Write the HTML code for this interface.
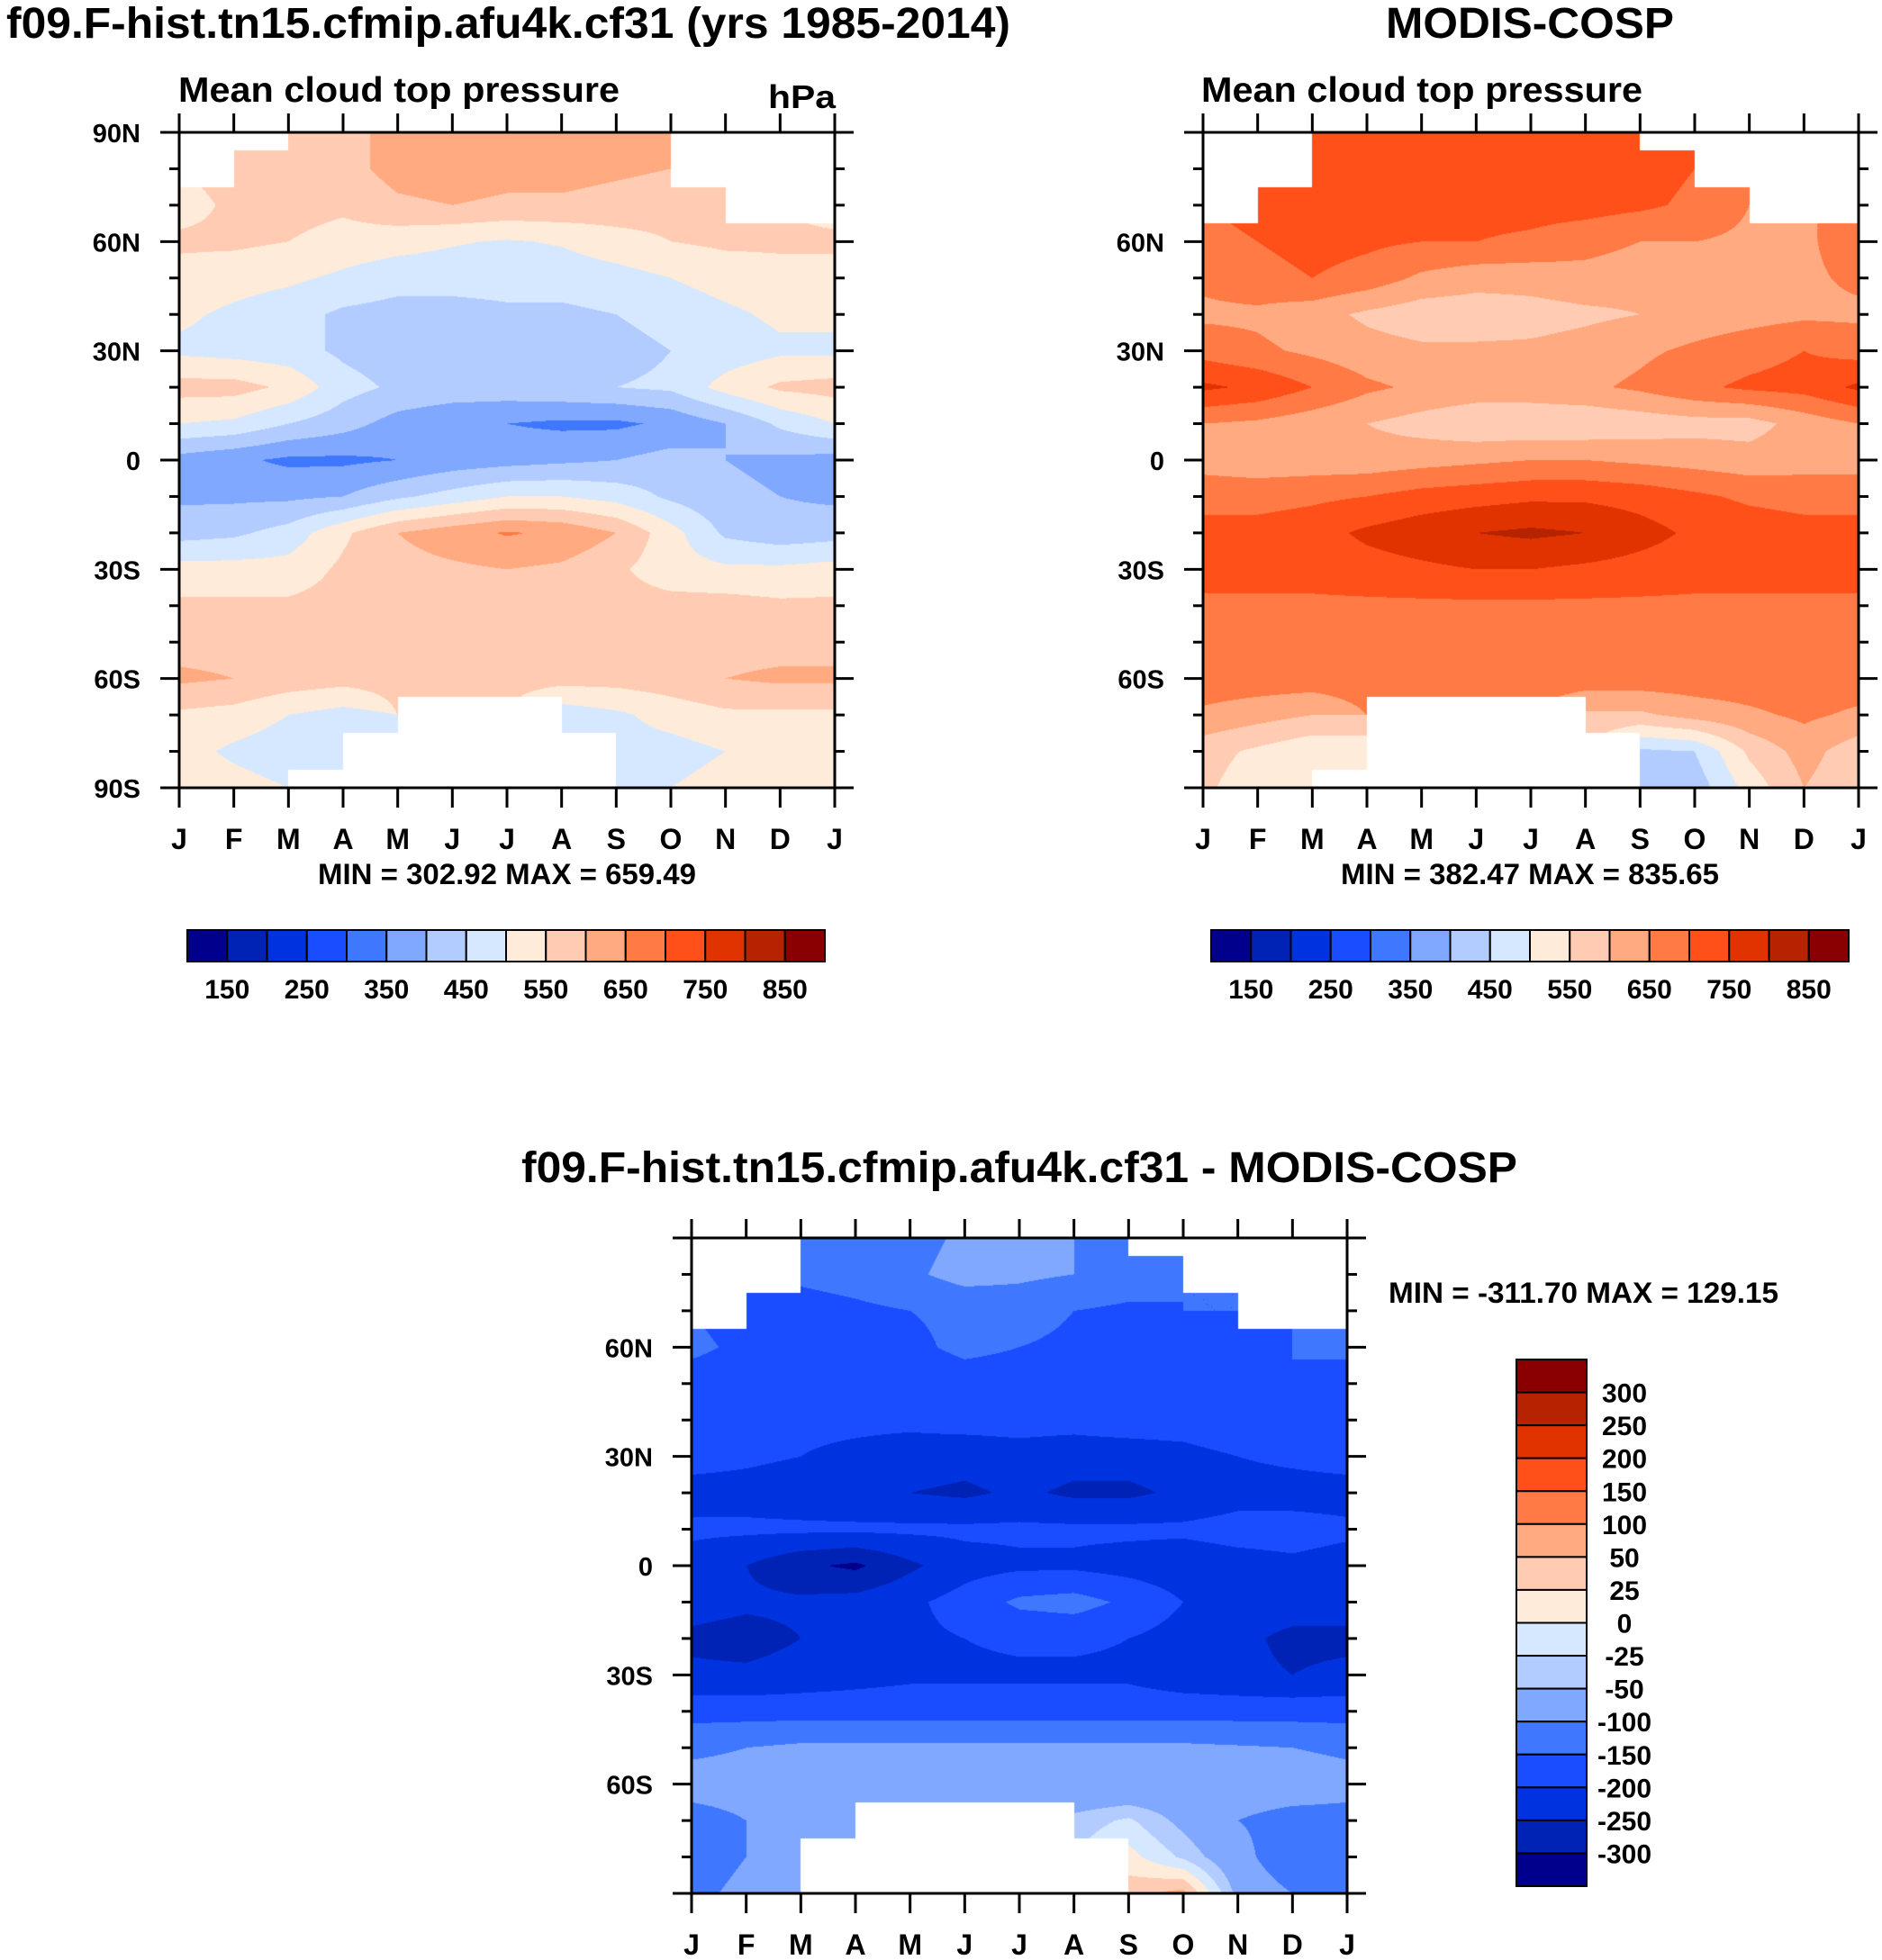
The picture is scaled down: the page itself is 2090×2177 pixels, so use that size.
<!DOCTYPE html>
<html>
<head>
<meta charset="utf-8">
<style>
html,body{margin:0;padding:0;background:#fff;}
#root{position:relative;width:2090px;height:2177px;overflow:hidden;background:#fff;}
canvas{position:absolute;}
svg{position:absolute;left:0;top:0;}
text{font-family:"Liberation Sans",Arial,sans-serif;font-weight:bold;fill:#000;}
</style>
</head>
<body>
<div id="root">
<canvas id="c1" width="728" height="728" style="left:199px;top:147px"></canvas>
<canvas id="c2" width="728" height="728" style="left:1336px;top:147px"></canvas>
<canvas id="c3" width="728" height="728" style="left:768px;top:1375px"></canvas>
<svg id="ov" width="2090" height="2177">
  <text x="7" y="42" font-size="48" textLength="1115" lengthAdjust="spacingAndGlyphs">f09.F-hist.tn15.cfmip.afu4k.cf31 (yrs 1985-2014)</text>
  <text x="198" y="113" font-size="39" textLength="490" lengthAdjust="spacingAndGlyphs">Mean cloud top pressure</text>
  <text x="853" y="120" font-size="36" textLength="75" lengthAdjust="spacingAndGlyphs">hPa</text>
  <text x="1539" y="42" font-size="48" textLength="320" lengthAdjust="spacingAndGlyphs">MODIS-COSP</text>
  <text x="1334" y="113" font-size="39" textLength="490" lengthAdjust="spacingAndGlyphs">Mean cloud top pressure</text>
  <text x="579" y="1313" font-size="48" textLength="1106" lengthAdjust="spacingAndGlyphs">f09.F-hist.tn15.cfmip.afu4k.cf31 - MODIS-COSP</text>
  <text x="563" y="982" font-size="32" text-anchor="middle" textLength="420" lengthAdjust="spacingAndGlyphs">MIN = 302.92 MAX = 659.49</text>
  <text x="1699" y="982" font-size="32" text-anchor="middle" textLength="420" lengthAdjust="spacingAndGlyphs">MIN = 382.47 MAX = 835.65</text>
  <text x="1542" y="1447" font-size="32" textLength="433" lengthAdjust="spacingAndGlyphs">MIN = -311.70 MAX = 129.15</text>
</svg>
</div>
<script>
const months = ['J','F','M','A','M','J','J','A','S','O','N','D','J'];
const lats = [90,80,70,60,50,40,30,20,10,0,-10,-20,-30,-40,-50,-60,-70,-80,-90];
const ctpLevels = [150,200,250,300,350,400,450,500,550,600,650,700,750,800,850];
const diffLevels = [-300,-250,-200,-150,-100,-50,-25,0,25,50,100,150,200,250,300];
const ctpTickLabels = ['150','250','350','450','550','650','750','850'];
const diffTickLabels = ['300','250','200','150','100','50','25','0','-25','-50','-100','-150','-200','-250','-300'];
const palette = ['#00008c','#0022b5','#0033e0','#1a4dff','#4077ff','#80a8ff','#b3ccff','#d5e8ff','#ffebd9','#ffccb3','#ffaa80','#ff7a45','#ff501a','#e03300','#b52300','#8a0000'];
const n = null;
const modelCTP = [
 [n,n,570,580,620,620,620,620,610,n,n,n],
 [n,570,575,580,620,630,620,620,610,n,n,n],
 [530,560,570,560,590,600,590,590,580,570,n,n],
 [560,560,550,530,520,505,495,505,530,550,560,560],
 [530,520,510,490,470,470,470,470,480,500,520,530],
 [510,490,470,440,430,430,440,440,450,470,490,510],
 [490,480,470,440,420,410,410,420,430,450,470,490],
 [570,570,540,470,440,430,430,440,450,460,520,560],
 [500,490,450,420,380,360,350,340,340,360,400,460],
 [380,360,340,340,350,370,380,390,400,420,400,390],
 [390,390,390,400,440,470,500,500,480,440,410,400],
 [430,440,470,540,600,630,655,640,600,520,440,420],
 [520,520,520,560,580,590,600,590,560,520,510,510],
 [560,560,560,570,570,570,570,570,570,570,570,560],
 [580,580,580,580,570,570,570,570,570,570,580,580],
 [610,600,580,570,570,570,570,570,570,580,600,610],
 [540,530,500,480,n,n,n,470,490,520,540,540],
 [520,490,470,n,n,n,n,n,480,480,500,510],
 [540,520,n,n,n,n,n,n,500,500,520,530]
];
const modisCTP = [
 [n,n,730,730,730,730,730,730,n,n,n,n],
 [n,n,720,730,730,730,730,730,720,n,n,n],
 [n,720,710,700,710,720,720,720,710,690,n,n],
 [680,700,720,710,700,700,690,670,650,650,640,640],
 [660,680,700,680,640,620,620,630,620,630,640,640],
 [640,640,620,590,570,570,580,590,600,620,630,640],
 [680,660,640,620,610,610,610,620,640,660,680,700],
 [760,740,700,660,640,630,630,640,660,690,710,720],
 [650,640,620,600,580,560,560,560,570,580,580,620],
 [630,620,620,620,630,640,650,650,640,630,620,630],
 [680,680,690,700,720,730,740,740,730,710,690,680],
 [720,720,730,760,780,800,810,800,770,740,730,720],
 [720,720,720,730,740,750,750,740,730,720,720,720],
 [690,690,690,690,690,690,690,690,690,690,690,690],
 [690,690,690,690,690,690,690,690,690,690,690,690],
 [680,680,680,680,680,680,680,680,680,680,680,680],
 [640,620,600,n,n,n,n,590,590,620,640,660],
 [570,540,510,n,n,n,n,n,440,450,560,620],
 [560,520,n,n,n,n,n,n,420,420,520,600]
];
const diffCTP = [
 [n,n,-130,-140,-120,-90,-80,-100,n,n,n,n],
 [n,n,-140,-130,-110,-80,-90,-100,-120,n,n,n],
 [n,-170,-170,-160,-150,-140,-130,-150,-160,-150,n,n],
 [-140,-160,-180,-170,-160,-140,-150,-160,-170,-170,-160,-150],
 [-170,-180,-190,-190,-180,-170,-170,-180,-170,-160,-150,-150],
 [-180,-180,-190,-190,-190,-180,-180,-180,-170,-170,-150,-160],
 [-180,-190,-200,-210,-220,-230,-220,-230,-230,-220,-200,-190],
 [-220,-220,-230,-240,-250,-260,-240,-260,-260,-240,-220,-220],
 [-190,-190,-190,-190,-190,-190,-190,-190,-190,-190,-180,-180],
 [-220,-250,-290,-310,-260,-220,-210,-210,-220,-230,-220,-210],
 [-230,-240,-240,-230,-210,-180,-140,-130,-160,-200,-230,-230],
 [-260,-270,-250,-230,-210,-200,-190,-190,-200,-220,-240,-260],
 [-240,-240,-230,-220,-210,-210,-210,-210,-210,-230,-240,-250],
 [-170,-170,-170,-170,-170,-170,-170,-170,-170,-170,-170,-170],
 [-110,-100,-90,-90,-90,-90,-90,-90,-90,-90,-95,-100],
 [-80,-80,-90,-90,-90,-90,-90,-90,-90,-80,-70,-70],
 [-120,-100,-60,n,n,n,n,-40,-20,-60,-100,-120],
 [-140,-100,n,n,n,n,n,n,10,-30,-80,-140],
 [-120,-80,n,n,n,n,n,n,40,60,-60,-100]
];

const W = 728;
const panels = [
 {id:'c1', name:'model', x0:199, y0:147, data:modelCTP, levels:ctpLevels, allLat:true},
 {id:'c2', name:'modis', x0:1336, y0:147, data:modisCTP, levels:ctpLevels, allLat:false},
 {id:'c3', name:'difference', x0:768, y0:1375, data:diffCTP, levels:diffLevels, allLat:false}
];
function xScale(p, m){ return p.x0 + m*W/12; }
function yScale(p, lat){ return p.y0 + (90-lat)*W/180; }
function node(p, j, i){ return p.data[j][i % 12]; }
function levelColor(levels, v){ let k=0; while(k<levels.length && v>=levels[k]) k++; return palette[k]; }
function hexRGB(h){ return [parseInt(h.substr(1,2),16),parseInt(h.substr(3,2),16),parseInt(h.substr(5,2),16)]; }

panels.forEach(p=>{
  const cv = document.getElementById(p.id);
  const ctx = cv.getContext('2d');
  const img = ctx.createImageData(W, W);
  const nLat = lats.length - 1;
  for(let py=0; py<W; py++){
    const fy = (py+0.5)/W*nLat;
    const j0 = Math.min(Math.floor(fy), nLat-1), ty = fy - j0;
    const jr = Math.round(fy);
    for(let px=0; px<W; px++){
      const fx = (px+0.5)/W*12;
      const i0 = Math.min(Math.floor(fx), 11), tx = fx - i0;
      let rgb = [255,255,255];
      if(node(p, jr, i0) !== null){
        const pts = [[j0,i0,(1-tx)*(1-ty)],[j0,i0+1,tx*(1-ty)],[j0+1,i0,(1-tx)*ty],[j0+1,i0+1,tx*ty]];
        let s=0, w=0;
        pts.forEach(q=>{ const v=node(p,q[0],q[1]); if(v!==null){ s+=v*q[2]; w+=q[2]; } });
        if(w>0) rgb = hexRGB(levelColor(p.levels, s/w));
      }
      const o = (py*W+px)*4;
      img.data[o]=rgb[0]; img.data[o+1]=rgb[1]; img.data[o+2]=rgb[2]; img.data[o+3]=255;
    }
  }
  ctx.putImageData(img,0,0);
});

const svg = document.getElementById('ov');
const NS = 'http://www.w3.org/2000/svg';
function mk(tag, attrs){ const e=document.createElementNS(NS,tag); for(const k in attrs) e.setAttribute(k, attrs[k]); svg.appendChild(e); return e; }

panels.forEach(p=>{
  const L=p.x0, T=p.y0, R=p.x0+W, B=p.y0+W;
  lats.forEach(lat=>{
    const y = yScale(p, lat);
    const major = lat % 30 === 0;
    const len = major ? 21 : 11;
    const tl = mk('line',{x1:L-len,y1:y,x2:L,y2:y,stroke:'#000','stroke-width':3});
    
    
    const tr = mk('line',{x1:R,y1:y,x2:R+len,y2:y,stroke:'#000','stroke-width':3});
    
    
    if(major && (p.allLat || Math.abs(lat)<90)){
      const lbl = lat===0 ? '0' : Math.abs(lat)+(lat>0?'N':'S');
      const t = mk('text',{x:L-43,y:y+11,'font-size':29,'text-anchor':'end'});
      t.textContent = lbl;
      
      
    }
  });
  months.forEach((m,i)=>{
    const x = xScale(p, i);
    const tt = mk('line',{x1:x,y1:T-21,x2:x,y2:T,stroke:'#000','stroke-width':3});
    
    
    const tb = mk('line',{x1:x,y1:B,x2:x,y2:B+22,stroke:'#000','stroke-width':3});
    
    
    const t = mk('text',{x:x,y:B+68,'font-size':32,'text-anchor':'middle'});
    t.textContent = m;
    
    
  });
  const frame = mk('rect',{x:L,y:T,width:W,height:W,fill:'none',stroke:'#000','stroke-width':3});
  
  
});

[{x0:208, name:'model'},{x0:1345, name:'modis'}].forEach(cb=>{
  const w = 708/16, top=1033, h=35;
  palette.forEach((c,k)=>{
    const r = mk('rect',{x:cb.x0+k*w,y:top,width:w,height:h,fill:c,stroke:'#000','stroke-width':2});
    
    
  });
  ctpTickLabels.forEach((lb,k)=>{
    const t = mk('text',{x:cb.x0+(1+2*k)*w,y:1109,'font-size':30,'text-anchor':'middle'});
    t.textContent = lb;
    
    
  });
});

(function(){
  const x0=1684, w=78, top=1510, h=585/16;
  palette.slice().reverse().forEach((c,k)=>{
    const r = mk('rect',{x:x0,y:top+k*h,width:w,height:h,fill:c,stroke:'#000','stroke-width':2});
    
    
  });
  diffTickLabels.forEach((lb,k)=>{
    const t = mk('text',{x:1804,y:top+(k+1)*h+11,'font-size':30,'text-anchor':'middle'});
    t.textContent = lb;
    
    
  });
})();
</script>
</body>
</html>
